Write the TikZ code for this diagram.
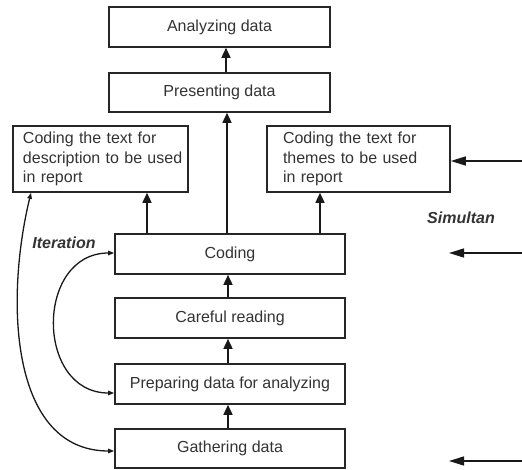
\documentclass[tikz,border=0pt]{standalone}
\usepackage{fontspec}
\setmainfont{Liberation Sans}
\usetikzlibrary{arrows.meta}
\begin{document}
\begin{tikzpicture}[x=1pt,y=-1pt,
  box/.style={draw=black!85, line width=1.6pt, fill=white, font=\fontsize{16}{19.5}\selectfont, text=black!80, inner sep=0pt},
  up/.style={line width=1.5pt, draw=black!90, -{Triangle[length=10pt,width=9pt]}},
  side/.style={line width=1.5pt, draw=black!90, -{Triangle[length=15pt,width=9pt]}},
  curvearr/.style={line width=1.3pt, draw=black!90, {Triangle[length=6pt,width=4.5pt]}-{Triangle[length=6pt,width=4.5pt]}},
  lbl/.style={font=\fontsize{16}{19}\selectfont\bfseries\itshape, text=black!80}]
\useasboundingbox (0,0) rectangle (522,470);
\node[box, minimum width=221pt, minimum height=40pt] (analyze) at (219.5,27) {Analyzing data};
\node[box, minimum width=221pt, minimum height=39pt] (present) at (219.5,92.5) {Presenting data};
\node[box, minimum height=66pt, text width=155pt, inner xsep=10pt, align=left] (desc) at (100.5,159) {\mbox{Coding the text for}\\\mbox{description to be used}\\\mbox{in report}};
\node[box, minimum height=66pt, text width=151pt, inner xsep=16pt, align=left] (themes) at (358.5,159) {Coding the text for\\themes to be used\\in report};
\node[box, minimum width=230pt, minimum height=40pt] (coding) at (230,254) {Coding};
\node[box, minimum width=230pt, minimum height=40pt] (careful) at (230,318) {Careful reading};
\node[box, minimum width=230pt, minimum height=40pt] (prepare) at (230,384) {Preparing data for analyzing};
\node[box, minimum width=230pt, minimum height=39pt] (gather) at (230,448.5) {Gathering data};
\node[lbl] (iter) at (64,243) {Iteration};
\node[lbl] (sim) at (461,218) {Simultan};
% vertical arrows
\coordinate (xa) at (226,0);
\coordinate (xb) at (227,0);
\coordinate (xc) at (228,0);
\coordinate (xd) at (147,0);
\coordinate (xt) at (320,0);
\draw[up] (present.north -| xa) -- (analyze.south -| xa);
\draw[up] (coding.north -| xb) -- (present.south -| xb);
\draw[up] (coding.north -| xd) -- (desc.south -| xd);
\draw[up] (coding.north -| xt) -- (themes.south -| xt);
\draw[up] (careful.north -| xc) -- (coding.south -| xc);
\draw[up] (prepare.north -| xc) -- (careful.south -| xc);
\draw[up] (gather.north -| xc) -- (prepare.south -| xc);
% right arrows
\coordinate (r1) at (522,161);
\coordinate (r2s) at (522,253);
\coordinate (r2e) at (449,253);
\coordinate (r3s) at (522,461);
\coordinate (r3e) at (449,461);
\draw[side] (r1) -- (r1 -| themes.east);
\draw[side] (r2s) -- (r2e);
\draw[side] (r3s) -- (r3e);
% curved arrows
\coordinate (yp) at (0,393);
\coordinate (yc) at (0,253);
\coordinate (yg) at (0,451);
\coordinate (xl) at (31,0);
\draw[curvearr] (prepare.west |- yp) .. controls (35,393) and (35,253) .. (coding.west |- yc);
\draw[curvearr] (gather.west |- yg) .. controls (10,451) and (5,300) .. (desc.south -| xl);
\end{tikzpicture}
\end{document}
